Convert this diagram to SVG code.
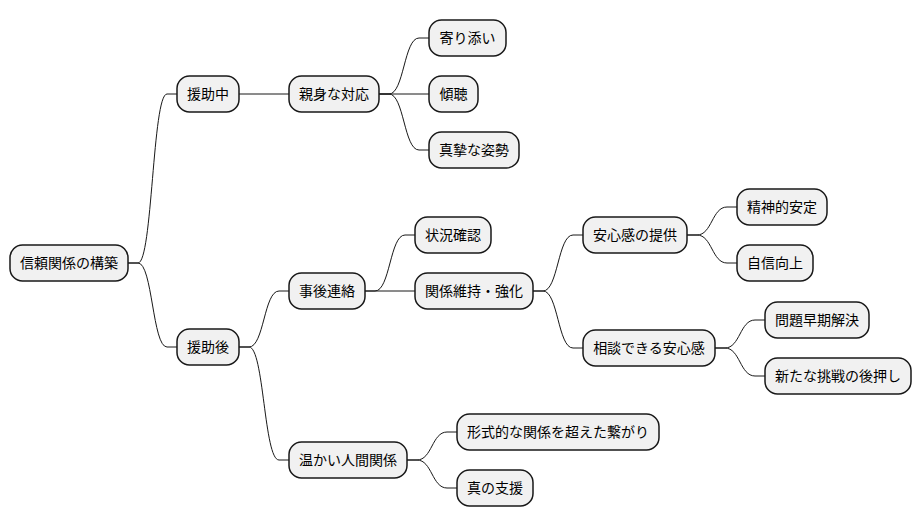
<svg xmlns="http://www.w3.org/2000/svg" width="922" height="527" viewBox="0 0 922 527">
<style>
.n rect{fill:#F1F1F1;stroke:#181818;stroke-width:1.5}
.n text{font-family:"Noto Sans CJK JP","Noto Sans",sans-serif;font-size:14px;fill:#000;text-anchor:middle}
#edges path{fill:none;stroke:#181818;stroke-width:1}
</style>
<rect width="922" height="527" fill="#fff"/>
<g id="edges">
<path d="M128,263 H138 C152.5,263 152.5,94 167,94 H177"/>
<path d="M128,263 H138 C152.5,263 152.5,347 167,347 H177"/>
<path d="M239,94 H289"/>
<path d="M379,94 H389 C404,94 404,38 419,38 H429"/>
<path d="M379,94 H429"/>
<path d="M379,94 H389 C404,94 404,150 419,150 H429"/>
<path d="M239,347 H249 C264,347 264,291 279,291 H289"/>
<path d="M239,347 H249 C264,347 264,460 279,460 H289"/>
<path d="M365,291 H375 C390,291 390,235 405,235 H415"/>
<path d="M365,291 H415"/>
<path d="M533,291 H543 C558,291 558,235 573,235 H583"/>
<path d="M533,291 H543 C558,291 558,348 573,348 H583"/>
<path d="M687,235 H697 C712,235 712,207 727,207 H737"/>
<path d="M687,235 H697 C712,235 712,263 727,263 H737"/>
<path d="M715,348 H725 C740,348 740,320 755,320 H765"/>
<path d="M715,348 H725 C740,348 740,376 755,376 H765"/>
<path d="M407,460 H417 C432,460 432,432 447,432 H457"/>
<path d="M407,460 H417 C432,460 432,488 447,488 H457"/>
</g>
<g id="root" class="n"><rect x="10" y="245" width="118" height="36" rx="12.5"/><text x="69" y="268">信頼関係の構築</text></g>
<g id="n1" class="n"><rect x="177" y="76" width="62" height="36" rx="12.5"/><text x="208" y="99">援助中</text></g>
<g id="n2" class="n"><rect x="289" y="76" width="90" height="36" rx="12.5"/><text x="334" y="99">親身な対応</text></g>
<g id="n3" class="n"><rect x="429" y="20" width="77" height="36" rx="12.5"/><text x="467.5" y="43">寄り添い</text></g>
<g id="n4" class="n"><rect x="429" y="76" width="49" height="36" rx="12.5"/><text x="453.5" y="99">傾聴</text></g>
<g id="n5" class="n"><rect x="429" y="132" width="90" height="36" rx="12.5"/><text x="474" y="155">真摯な姿勢</text></g>
<g id="n6" class="n"><rect x="177" y="329" width="62" height="36" rx="12.5"/><text x="208" y="352">援助後</text></g>
<g id="n7" class="n"><rect x="289" y="273" width="76" height="36" rx="12.5"/><text x="327" y="296">事後連絡</text></g>
<g id="n8" class="n"><rect x="415" y="217" width="76" height="36" rx="12.5"/><text x="453" y="240">状況確認</text></g>
<g id="n9" class="n"><rect x="415" y="273" width="118" height="36" rx="12.5"/><text x="474" y="296">関係維持・強化</text></g>
<g id="n10" class="n"><rect x="583" y="217" width="104" height="36" rx="12.5"/><text x="635" y="240">安心感の提供</text></g>
<g id="n11" class="n"><rect x="737" y="189" width="90" height="36" rx="12.5"/><text x="782" y="212">精神的安定</text></g>
<g id="n12" class="n"><rect x="737" y="245" width="76" height="36" rx="12.5"/><text x="775" y="268">自信向上</text></g>
<g id="n13" class="n"><rect x="583" y="330" width="132" height="36" rx="12.5"/><text x="649" y="353">相談できる安心感</text></g>
<g id="n14" class="n"><rect x="765" y="302" width="104" height="36" rx="12.5"/><text x="817" y="325">問題早期解決</text></g>
<g id="n15" class="n"><rect x="765" y="358" width="146" height="36" rx="12.5"/><text x="838" y="381">新たな挑戦の後押し</text></g>
<g id="n16" class="n"><rect x="289" y="442" width="118" height="36" rx="12.5"/><text x="348" y="465">温かい人間関係</text></g>
<g id="n17" class="n"><rect x="457" y="414" width="202" height="36" rx="12.5"/><text x="558" y="437">形式的な関係を超えた繋がり</text></g>
<g id="n18" class="n"><rect x="457" y="470" width="76" height="36" rx="12.5"/><text x="495" y="493">真の支援</text></g>
</svg>
